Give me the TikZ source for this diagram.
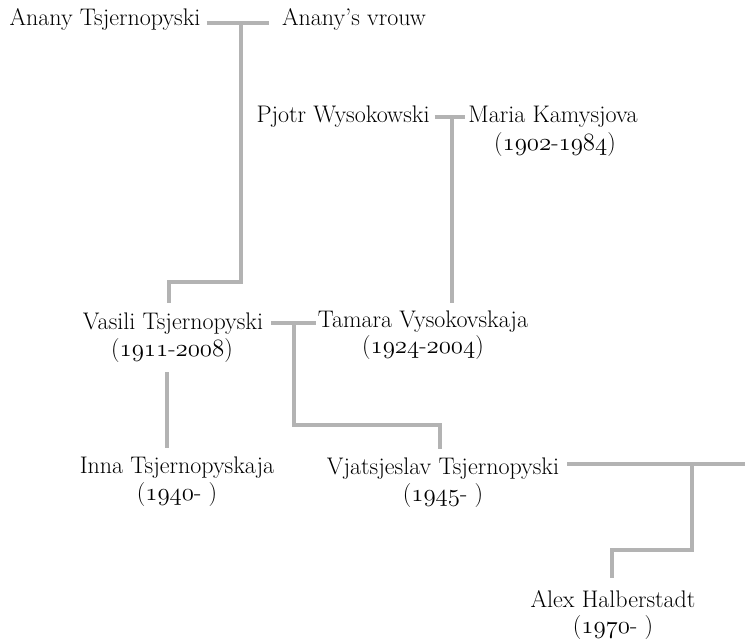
\documentclass[tikz,border=0pt]{standalone}
\usetikzlibrary{calc}
\definecolor{linegray}{HTML}{B3B3B3}
\newcommand\osn[1]{{\usefont{OML}{lmm}{m}{it}#1}}
\newcommand\namefont{\fontsize{24}{28}\selectfont}
\begin{document}
\begin{tikzpicture}[x=1pt,y=-1pt,
  person/.style={inner sep=0pt, anchor=base, font=\namefont},
  dates/.style={inner sep=0pt, anchor=base, font=\namefont},
  link/.style={draw=linegray, line width=4pt}]
\useasboundingbox (0,0) rectangle (745,639);
% people
\node[person] (anT) at (105,26) {Anany Tsjernopyski};
\node[person] (anV) at (354,26) {Anany’s vrouw};
\node[person] (pjo) at (343,123) {Pjotr Wysokowski};
\node[person] (mar) at (553,123) {Maria Kamysjova};
\node[dates]  (marD) at (555,151) {(\osn{1902}-\osn{1984})};
\node[person] (vas) at (173,330) {Vasili Tsjernopyski};
\node[dates]  (vasD) at (172,356) {(\osn{1911}-\osn{2008})};
\node[person] (tam) at (423,328) {Tamara Vysokovskaja};
\node[dates]  (tamD) at (423,354) {(\osn{1924}-\osn{2004})};
\node[person] (inn) at (177,473) {Inna Tsjernopyskaja};
\node[dates]  (innD) at (177,500) {(\osn{1940}- )};
\node[person] (vja) at (443,474) {Vjatsjeslav Tsjernopyski};
\node[dates]  (vjaD) at (443,501) {(\osn{1945}- )};
\node[person] (ale) at (613,607) {Alex Halberstadt};
\node[dates]  (aleD) at (613,633) {(\osn{1970}- )};
% junction coordinates
\coordinate (m1) at (241,23);
\coordinate (k1) at (169,282);
\coordinate (m2) at (452,117);
\coordinate (m3) at (294,323);
\coordinate (k3) at (440,425);
\coordinate (m5) at (692,464);
\coordinate (k5) at (612,550);
\coordinate (rend) at (745,464);
% couple Anany
\draw[link] ($(anT.east |- m1)+(6,0)$) -- ($(anV.west |- m1)+(-13,0)$);
\draw[link] (m1) -- (m1 |- k1) -- (k1) -- ($(k1 |- vas.north)+(0,-10)$);
% couple Pjotr
\draw[link] ($(pjo.east |- m2)+(5,0)$) -- ($(mar.west |- m2)+(-3,0)$);
\draw[link] (m2) -- ($(m2 |- tam.north)+(0,-8)$);
% couple Vasili
\draw[link] ($(vas.east |- m3)+(8,0)$) -- ($(tam.west |- m3)+(-2,0)$);
\draw[link] (m3) -- (m3 |- k3) -- (k3) -- ($(k3 |- vja.north)+(0,-8)$);
% Vasili to Inna
\draw[link] ($(vasD.south -| inn.center)+(-10,10)$) -- ($(inn.north)+(-10,-8)$);
% Vjatsjeslav
\draw[link] ($(vja.east |- m5)+(8,0)$) -- (rend);
\draw[link] (m5) -- (m5 |- k5) -- (k5) -- ($(k5 |- ale.north)+(0,-12)$);
\end{tikzpicture}
\end{document}
